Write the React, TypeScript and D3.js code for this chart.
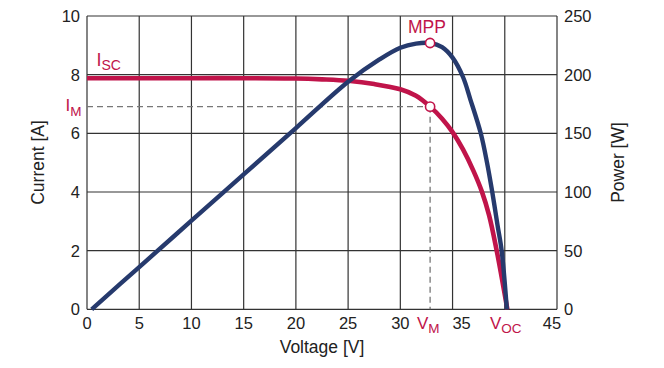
import React from "react";
import * as d3 from "d3";

const voltageI = [0, 5, 10, 15, 20, 22.5, 25, 27.5, 30, 31.5, 32.85, 34, 35, 36, 37, 37.8, 38.5, 39.2, 39.7, 40.25];
const currentA = [7.88, 7.88, 7.88, 7.88, 7.87, 7.84, 7.79, 7.68, 7.5, 7.28, 6.91, 6.5, 6.04, 5.45, 4.72, 4.02, 3.2, 2.05, 1.1, 0];

const voltageP = [0.45, 5, 10, 15, 20, 25, 28, 30, 31.5, 32.85, 34, 35, 36, 36.7, 37.7, 38.3, 38.8, 39.3, 39.7, 40.2];
const powerW = [0, 36, 75.5, 115, 154.5, 194, 213, 223, 226.5, 227, 223.5, 214.5, 198, 179, 150, 125, 100, 72, 50, 0];

const xGrid = [0, 5, 10, 15, 20, 25, 30, 35, 40, 45];
const xTickLabels = [0, 5, 10, 15, 20, 25, 30, 35, 45];
const yCurrentTicks = [0, 2, 4, 6, 8, 10];
const yPowerTicks = [0, 50, 100, 150, 200, 250];

const mppV = 32.85;
const mppI = 6.91;
const mppP = 227;

const RED = "#c0144a";
const BLUE = "#263a6d";
const FONT = "'Liberation Sans', Arial, Helvetica, sans-serif";

export default function App() {
  const W = 664, H = 368;
  const x = d3.scaleLinear().domain([0, 45]).range([87, 557]);
  const yI = d3.scaleLinear().domain([0, 10]).range([309.3, 16]);
  const yP = d3.scaleLinear().domain([0, 250]).range([309.3, 16]);

  const iLine = d3.line<number>()
    .x((_, i) => x(voltageI[i]))
    .y((d) => yI(d))
    .curve(d3.curveCatmullRom.alpha(0.5));
  const pLine = d3.line<number>()
    .x((_, i) => x(voltageP[i]))
    .y((d) => yP(d))
    .curve(d3.curveCatmullRom.alpha(0.5));

  const labelDx: Record<number, number> = { 35: 9, 45: -5 };

  return (
    <svg width={W} height={H} style={{ position: "absolute", left: 0, top: 0 }} fontFamily={FONT}>
      <rect x={0} y={0} width={W} height={H} fill="#fff" />
      {/* grid */}
      {xGrid.map((v) => (
        <line key={"gx" + v} x1={x(v)} x2={x(v)} y1={yI(0)} y2={yI(10)} stroke="#333" strokeWidth={1.2} />
      ))}
      {yCurrentTicks.map((v) => (
        <line key={"gy" + v} x1={x(0)} x2={x(45)} y1={yI(v)} y2={yI(v)} stroke="#333" strokeWidth={1.2} />
      ))}
      {/* dashed MPP guides */}
      <line x1={x(0)} x2={x(mppV)} y1={yI(mppI)} y2={yI(mppI)} stroke="#777" strokeWidth={1.3} strokeDasharray="6,4" />
      <line x1={x(mppV)} x2={x(mppV)} y1={yI(mppI)} y2={yI(0)} stroke="#777" strokeWidth={1.3} strokeDasharray="6,4" />
      {/* curves */}
      <path d={iLine(currentA) || ""} fill="none" stroke={RED} strokeWidth={4.6} strokeLinejoin="round" />
      <path d={pLine(powerW) || ""} fill="none" stroke={BLUE} strokeWidth={4.4} strokeLinejoin="round" />
      {/* markers */}
      <circle cx={x(mppV)} cy={yP(mppP)} r={4.6} fill="#fff" stroke={RED} strokeWidth={1.6} />
      <circle cx={x(mppV)} cy={yI(mppI)} r={4.6} fill="#fff" stroke={RED} strokeWidth={1.6} />
      {/* x tick labels */}
      {xTickLabels.map((v) => (
        <text key={"xt" + v} x={x(v) + (labelDx[v] || 0)} y={329} textAnchor="middle" fontSize={16.5} fill="#222">{v}</text>
      ))}
      {/* left tick labels */}
      {yCurrentTicks.map((v) => (
        <text key={"yl" + v} x={80} y={yI(v)} dy="0.36em" textAnchor="end" fontSize={16.5} fill="#222">{v}</text>
      ))}
      {/* right tick labels */}
      {yPowerTicks.map((v) => (
        <text key={"yr" + v} x={564} y={yP(v)} dy="0.36em" textAnchor="start" fontSize={16.5} fill="#222">{v}</text>
      ))}
      {/* axis titles */}
      <text x={322} y={353} textAnchor="middle" fontSize={17.5} fill="#222">Voltage [V]</text>
      <text transform={`translate(44,162.5) rotate(-90)`} textAnchor="middle" fontSize={17.5} fill="#222">Current [A]</text>
      <text transform={`translate(624,162.5) rotate(-90)`} textAnchor="middle" fontSize={17.5} fill="#222">Power [W]</text>
      {/* annotations */}
      <text x={427} y={33.3} textAnchor="middle" fontSize={17.5} fill={RED}>MPP</text>
      <text x={96.5} y={66} fontSize={18} fill={RED}>I<tspan fontSize={14} dy={4}>SC</tspan></text>
      <text x={65.5} y={111} fontSize={17} fill={RED}>I<tspan fontSize={13.5} dy={5}>M</tspan></text>
      <text x={417} y={329} fontSize={17} fill={RED}>V<tspan fontSize={13.5} dy={4}>M</tspan></text>
      <text x={490} y={329} fontSize={17} fill={RED}>V<tspan fontSize={13.5} dy={4}>OC</tspan></text>
    </svg>
  );
}
